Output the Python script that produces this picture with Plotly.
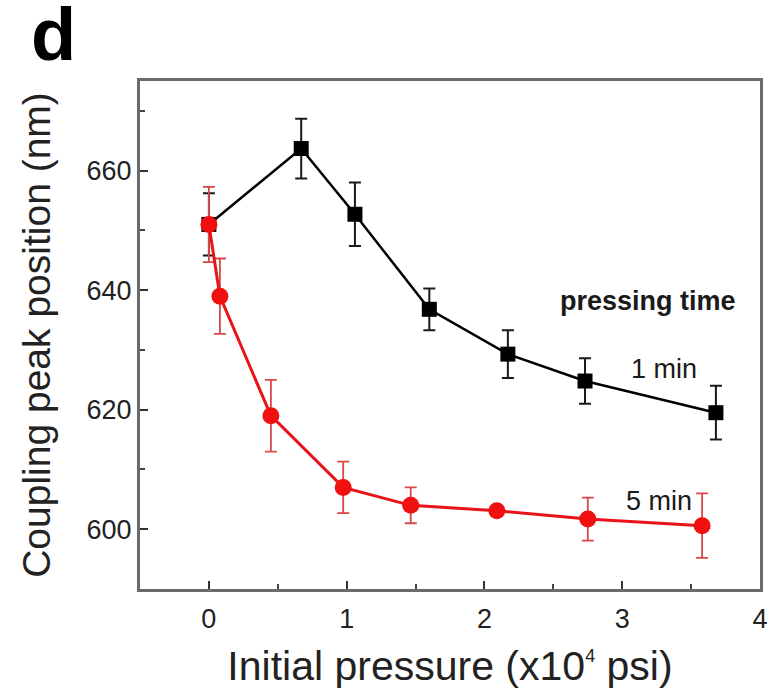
import plotly.graph_objects as go

# Initial pressure (x10^4 psi) and coupling peak position (nm)
x_1min = [0.0, 0.67, 1.06, 1.60, 2.17, 2.73, 3.68]
y_1min = [651.0, 663.7, 652.7, 636.8, 629.3, 624.8, 619.5]
err_1min = [5.2, 5.0, 5.3, 3.5, 4.0, 3.8, 4.5]

x_5min = [0.0, 0.08, 0.45, 0.975, 1.465, 2.09, 2.75, 3.58]
y_5min = [651.0, 639.0, 619.0, 607.0, 604.0, 603.1, 601.7, 600.6]
err_5min = [6.3, 6.3, 6.0, 4.3, 3.0, 0.8, 3.6, 5.4]

x_ticks = [0, 1, 2, 3, 4]
y_ticks = [600, 620, 640, 660]

FONT = "Liberation Sans, Arial, sans-serif"

fig = go.Figure()

fig.add_trace(go.Scatter(
    x=x_1min, y=y_1min, mode="lines+markers",
    line=dict(color="#000000", width=2.5),
    marker=dict(symbol="square", size=15, color="#000000"),
    error_y=dict(type="data", array=err_1min, visible=True,
                 color="#1a1a1a", thickness=2, width=6),
    showlegend=False,
))

fig.add_trace(go.Scatter(
    x=x_5min, y=y_5min, mode="lines+markers",
    line=dict(color="#e8141a", width=3),
    marker=dict(symbol="circle", size=17, color="#f01010"),
    error_y=dict(type="data", array=err_5min, visible=True,
                 color="#d84848", thickness=1.8, width=6),
    showlegend=False,
))

# Series labels
fig.add_annotation(x=3.19, y=638.2, text="<b>pressing time</b>", showarrow=False,
                   font=dict(family=FONT, size=27, color="#1a1a1a"))
fig.add_annotation(x=3.30, y=626.8, text="1 min", showarrow=False,
                   font=dict(family=FONT, size=27, color="#1a1a1a"))
fig.add_annotation(x=3.27, y=604.7, text="5 min", showarrow=False,
                   font=dict(family=FONT, size=27, color="#1a1a1a"))

# Panel letter
fig.add_annotation(xref="paper", yref="paper", x=-0.14, y=1.0 + 47 / 509,
                   xanchor="center", yanchor="middle",
                   text="<b>d</b>", showarrow=False,
                   font=dict(family=FONT, size=74, color="#000000"))

axis_common = dict(
    showline=True, linecolor="#6a6a6a", linewidth=3, mirror=True,
    ticks="inside", ticklen=8, tickwidth=2, tickcolor="#333333",
    showgrid=False, zeroline=False,
    tickfont=dict(family=FONT, size=27, color="#222222"),
)

fig.update_xaxes(
    range=[-0.5, 4.0], tickvals=x_ticks, ticktext=[str(v) for v in x_ticks],
    ticklabelstandoff=4,
    minor=dict(dtick=0.5, ticks="inside", ticklen=5, tickwidth=2, tickcolor="#444444"),
    title=dict(text="Initial pressure (x10<sup><span style='font-size:18px'>4</span></sup> psi)",
               standoff=18,
               font=dict(family=FONT, size=41, color="#222222")),
    **axis_common,
)
fig.update_yaxes(
    range=[590, 675], tickvals=y_ticks, ticktext=[str(v) for v in y_ticks],
    minor=dict(dtick=10, ticks="inside", ticklen=5, tickwidth=2, tickcolor="#444444"),
    title=dict(text="Coupling peak position (nm)", standoff=24,
               font=dict(family=FONT, size=39, color="#222222")),
    **axis_common,
)

fig.update_layout(
    width=777, height=690,
    margin=dict(l=140, r=9, t=81, b=100),
    plot_bgcolor="white", paper_bgcolor="white",
)

fig.write_html("out.html")
